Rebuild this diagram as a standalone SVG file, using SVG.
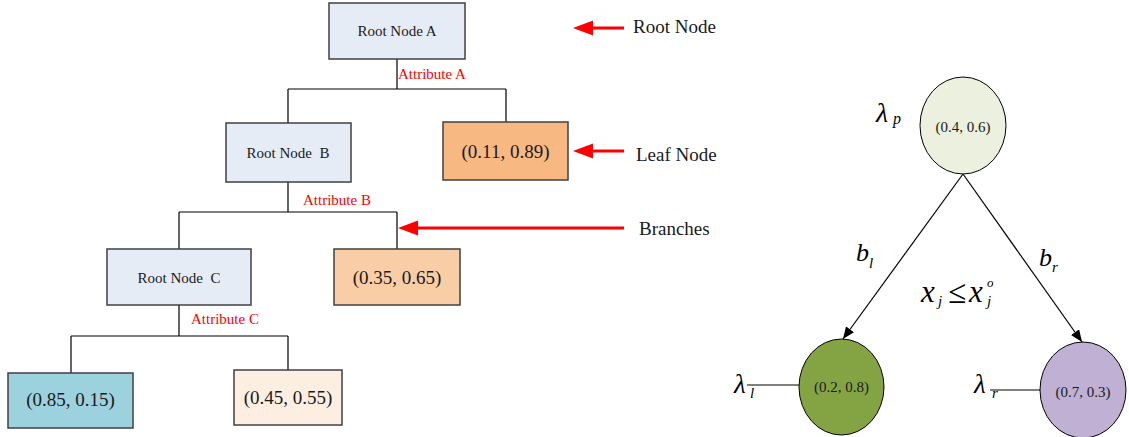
<svg xmlns="http://www.w3.org/2000/svg" width="1129" height="437" viewBox="0 0 1129 437">
<defs>
<style>
.box{stroke:#404040;stroke-width:1.5}
.inner{fill:#e6ecf6}
.lbl{font-family:"Liberation Serif","Times New Roman",serif;fill:#1a1a1a;text-anchor:middle;white-space:pre}
.small{font-size:15px}
.big{font-size:19px}
.attr{font-family:"Liberation Serif","Times New Roman",serif;font-size:15px;fill:#ff0000}
.ann{font-family:"Liberation Serif","Times New Roman",serif;font-size:19px;fill:#1a1a1a}
.conn{fill:none;stroke:#000;stroke-width:1.2}
.red{stroke:#ff0000;stroke-width:3;fill:none}
.redhead{fill:#ff0000}
.circ{stroke:#000;stroke-width:1}
.math{font-family:"Liberation Serif","Times New Roman",serif;font-style:italic;fill:#000}
</style>
<marker id="arr" viewBox="0 0 12 10" refX="12" refY="5" markerWidth="12" markerHeight="10" markerUnits="userSpaceOnUse" orient="auto">
<path d="M0,0 L12,5 L0,10 Z" fill="#000"/>
</marker>
</defs>
<rect width="1129" height="437" fill="#fff"/>

<g id="connectors">
<path class="conn" d="M397,59 V89 M288,89 H506 M288,89 V123 M506,89 V122"/>
<path class="conn" d="M288,182 V212 M179,212 H397 M179,212 V249 M397,212 V249"/>
<path class="conn" d="M179,305 V336 M71,336 H288 M71,336 V373 M288,336 V370"/>
<line class="conn" x1="963" y1="174" x2="843" y2="339" marker-end="url(#arr)"/>
<line class="conn" x1="963" y1="174" x2="1082" y2="342" marker-end="url(#arr)"/>
<line class="conn" x1="747" y1="385" x2="799" y2="385"/>
<line class="conn" x1="990" y1="390" x2="1040" y2="390"/>
</g>

<g id="attributes">
<text class="attr" x="398" y="79">Attribute A</text>
<text class="attr" x="303" y="205">Attribute B</text>
<text class="attr" x="191" y="324">Attribute C</text>
</g>

<g id="nodeA">
<rect class="box inner" x="329" y="3" width="136" height="56"/>
<text class="lbl small" x="397" y="36">Root Node A</text>
</g>
<g id="nodeB">
<rect class="box inner" x="226" y="123" width="125" height="59"/>
<text class="lbl small" x="288" y="158">Root Node  B</text>
</g>
<g id="leaf1">
<rect class="box" x="443" y="122" width="125" height="58" fill="#f7b882"/>
<text class="lbl big" x="505.5" y="158">(0.11, 0.89)</text>
</g>
<g id="nodeC">
<rect class="box inner" x="107" y="249" width="144" height="56"/>
<text class="lbl small" x="179" y="283">Root Node  C</text>
</g>
<g id="leaf2">
<rect class="box" x="334" y="249" width="126" height="56" fill="#f9cea7"/>
<text class="lbl big" x="397" y="284">(0.35, 0.65)</text>
</g>
<g id="leaf3">
<rect class="box" x="8" y="373" width="125" height="55" fill="#9bd2de"/>
<text class="lbl big" x="70.5" y="406">(0.85, 0.15)</text>
</g>
<g id="leaf4">
<rect class="box" x="234" y="370" width="108" height="55" fill="#fdeee2"/>
<text class="lbl big" x="288" y="404">(0.45, 0.55)</text>
</g>

<g id="legend">
<line class="red" x1="624" y1="28" x2="590" y2="28"/>
<polygon class="redhead" points="573,28 593,20.5 593,35.5"/>
<text class="ann" x="633" y="33">Root Node</text>
<line class="red" x1="624" y1="151" x2="590" y2="151"/>
<polygon class="redhead" points="573,151 593,143.5 593,158.5"/>
<text class="ann" x="636" y="161">Leaf Node</text>
<line class="red" x1="624" y1="228" x2="415" y2="228"/>
<polygon class="redhead" points="398,228 418,220.5 418,235.5"/>
<text class="ann" x="639" y="235">Branches</text>
</g>

<g id="parent">
<ellipse class="circ" cx="963" cy="125.5" rx="43" ry="48.5" fill="#ebf0df"/>
<text class="lbl small" x="963" y="132">(0.4, 0.6)</text>
<text class="math" x="876" y="122" font-size="28">λ</text>
<text class="math" x="893" y="124" font-size="16">p</text>
</g>
<g id="leftChild">
<ellipse class="circ" cx="841.5" cy="387" rx="42.5" ry="48" fill="#84a444"/>
<text class="lbl small" x="841.5" y="392">(0.2, 0.8)</text>
<text class="math" x="734" y="393" font-size="27">λ</text>
<text class="math" x="750" y="398" font-size="15">l</text>
</g>
<g id="rightChild">
<ellipse class="circ" cx="1083" cy="390" rx="43" ry="48" fill="#bfb0d4"/>
<text class="lbl small" x="1083" y="397">(0.7, 0.3)</text>
<text class="math" x="974" y="393" font-size="27">λ</text>
<text class="math" x="992" y="398" font-size="15">r</text>
</g>

<g id="branchLabels">
<text class="math" x="856" y="261" font-size="26">b</text>
<text class="math" x="869" y="268" font-size="15">l</text>
<text class="math" x="1039" y="266" font-size="26">b</text>
<text class="math" x="1052" y="272" font-size="15">r</text>
<text class="math" x="921" y="302" font-size="31">x</text>
<text class="math" x="938" y="306" font-size="15">j</text>
<text x="948" y="303" font-size="33" font-family="Liberation Serif, serif" fill="#000">≤</text>
<text class="math" x="969" y="302" font-size="31">x</text>
<text class="math" x="987" y="287" font-size="13">o</text>
<text class="math" x="987" y="306" font-size="15">j</text>
</g>
</svg>
